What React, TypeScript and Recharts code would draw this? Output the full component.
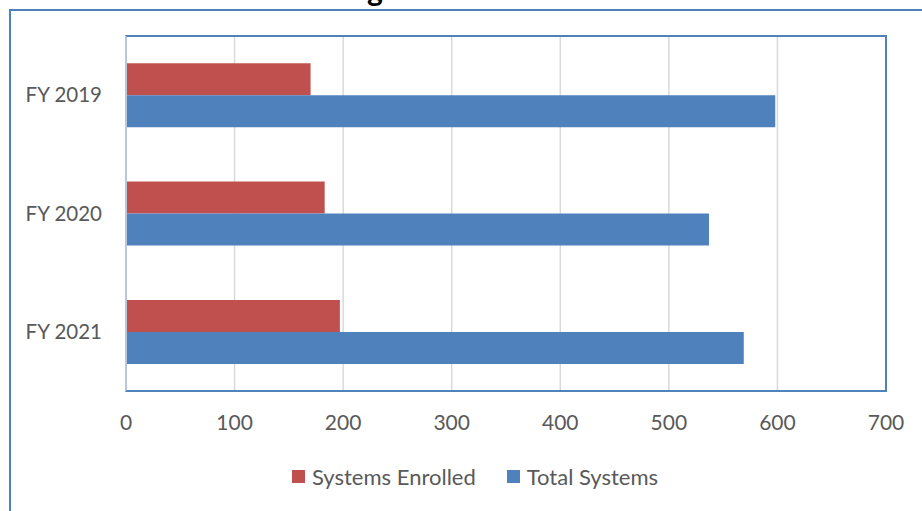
import React from 'react';
import { BarChart, Bar, XAxis, YAxis, CartesianGrid, Legend } from 'recharts';

const categories = ['FY 2019', 'FY 2020', 'FY 2021'];
const systemsEnrolled = [170, 183, 197];
const totalSystems = [598, 537, 569];
const xTicks = [0, 100, 200, 300, 400, 500, 600, 700];

const data = categories.map((c, i) => ({
  name: c,
  enrolled: systemsEnrolled[i],
  total: totalSystems[i],
}));

const RED = '#c0504d';
const BLUE = '#4f81bd';
const TEXT = '#595959';
const FONT = 'Lato, "Open Sans", sans-serif';

const legendItems = [
  { label: 'Systems Enrolled', color: RED },
  { label: 'Total Systems', color: BLUE },
];

const LegendContent = () => (
  <div
    style={{
      height: 60,
      boxSizing: 'border-box',
      paddingTop: 20,
      display: 'flex',
      alignItems: 'center',
      paddingLeft: 292,
      fontFamily: FONT,
      fontSize: 22,
      color: TEXT,
    }}
  >
    {legendItems.map((it, i) => (
      <div key={it.label} style={{ display: 'flex', alignItems: 'center', marginRight: i === 0 ? 31 : 0 }}>
        <span style={{ width: 13, height: 13, background: it.color, display: 'inline-block', marginRight: 7 }} />
        <span>{it.label}</span>
      </div>
    ))}
  </div>
);

export default function App() {
  return (
    <div style={{ position: 'absolute', left: 0, top: 0, width: 922, height: 511, background: '#fff', overflow: 'hidden' }}>
      <div
        style={{
          position: 'absolute',
          left: 9,
          top: 9,
          width: 930,
          height: 520,
          border: `2px solid ${BLUE}`,
          boxSizing: 'border-box',
        }}
      />
      <div
        style={{
          position: 'absolute',
          left: 0,
          top: -26,
          width: 750,
          textAlign: 'center',
          fontFamily: 'Lato, sans-serif',
          fontWeight: 'bold',
          fontSize: 30,
          lineHeight: '30px',
          color: '#000',
        }}
      >
        g
      </div>
      <div style={{ position: 'absolute', left: 0, top: 0 }}>
        <BarChart
          width={922}
          height={511}
          data={data}
          layout="vertical"
          margin={{ top: 36, right: 36, left: 10, bottom: 15 }}
          barCategoryGap="23%"
          barGap={0}
        >
          <CartesianGrid horizontal={false} vertical stroke="#d9d9d9" strokeWidth={1.5} />
          <XAxis
            type="number"
            domain={[0, 700]}
            ticks={xTicks}
            interval={0}
            height={45}
            axisLine={false}
            tickLine={false}
            tickSize={0}
            tickMargin={24}
            tick={{ fill: TEXT, fontSize: 21, fontFamily: FONT }}
          />
          <YAxis
            type="category"
            dataKey="name"
            width={116}
            axisLine={{ stroke: '#b9c7dc', strokeWidth: 2 }}
            tickLine={false}
            tickSize={0}
            tickMargin={24}
            tick={{ fill: TEXT, fontSize: 20.5, fontFamily: FONT }}
          />
          <Legend verticalAlign="bottom" content={<LegendContent />} wrapperStyle={{ left: 0, width: 922 }} />
          <Bar dataKey="enrolled" name="Systems Enrolled" fill={RED} isAnimationActive={false} />
          <Bar dataKey="total" name="Total Systems" fill={BLUE} isAnimationActive={false} />
        </BarChart>
      </div>
      <div
        style={{
          position: 'absolute',
          left: 125,
          top: 35,
          width: 762,
          height: 357,
          border: `2px solid ${BLUE}`,
          borderLeft: '2px solid #b9c7dc',
          boxSizing: 'border-box',
          pointerEvents: 'none',
        }}
      />
    </div>
  );
}
